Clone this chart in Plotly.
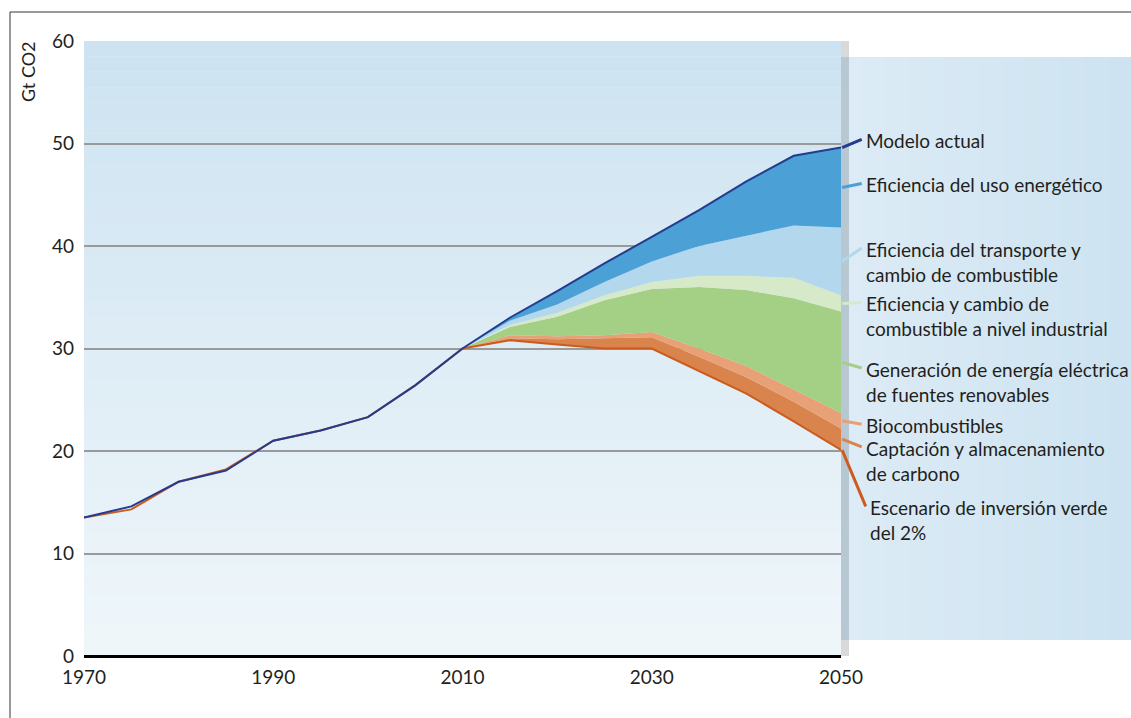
"""Emisiones de CO2: modelo actual vs escenario de inversión verde."""
import plotly.graph_objects as go

# --- datos ---
years = [1970, 1975, 1980, 1985, 1990, 1995, 2000, 2005, 2010,
         2015, 2020, 2025, 2030, 2035, 2040, 2045, 2050]
modelo_actual = [13.5, 14.6, 17.0, 18.1, 21.0, 22.0, 23.3, 26.4, 30.0,
                 33.0, 35.6, 38.3, 40.9, 43.5, 46.3, 48.8, 49.6]
escenario_verde = [13.5, 14.3, 17.0, 18.2, 21.0, 22.0, 23.3, 26.4, 30.0,
                   30.8, 30.4, 30.0, 30.0, 27.8, 25.6, 22.9, 20.1]

years_proj = [2010, 2015, 2020, 2025, 2030, 2035, 2040, 2045, 2050]
# límite superior de cada franja (de abajo hacia arriba)
tope_captacion = [30.0, 31.0, 30.9, 31.0, 31.1, 29.2, 27.2, 24.8, 22.2]
tope_biocomb = [30.0, 31.3, 31.2, 31.3, 31.6, 30.0, 28.3, 26.0, 23.7]
tope_renovables = [30.0, 32.1, 33.1, 34.7, 35.8, 36.0, 35.7, 34.9, 33.6]
tope_industria = [30.0, 32.3, 33.5, 35.2, 36.5, 37.1, 37.1, 36.9, 35.2]
tope_transporte = [30.0, 32.7, 34.3, 36.5, 38.5, 40.0, 41.0, 42.0, 41.8]

labels = ["Modelo actual", "Eficiencia del uso energético",
          "Eficiencia del transporte y<br>cambio de combustible",
          "Eficiencia y cambio de<br>combustible a nivel industrial",
          "Generación de energía eléctrica<br>de fuentes renovables",
          "Biocombustibles", "Captación y almacenamiento<br>de carbono",
          "Escenario de inversión verde<br>del 2%"]
colors = ['#243b8e', '#4ba0d5', '#b3d7ed', '#d6e9c9',
          '#a3d084', '#e8a176', '#d9834d', '#cc5b1c']

FONT = 'Lato'
TXT = '#231f20'

fig = go.Figure()

# franjas apiladas
proj_verde = escenario_verde[8:]
proj_modelo = modelo_actual[8:]
fig.add_trace(go.Scatter(x=years_proj, y=proj_verde, mode='lines',
                         line=dict(width=0), showlegend=False, hoverinfo='skip'))
bands = [(tope_captacion, colors[6]), (tope_biocomb, colors[5]),
         (tope_renovables, colors[4]), (tope_industria, colors[3]),
         (tope_transporte, colors[2]), (proj_modelo, colors[1])]
for top, c in bands:
    fig.add_trace(go.Scatter(x=years_proj, y=top, mode='lines', fill='tonexty',
                             fillcolor=c, line=dict(width=0, color=c),
                             showlegend=False, hoverinfo='skip'))

fig.add_trace(go.Scatter(x=years, y=escenario_verde, mode='lines',
                         line=dict(color=colors[7], width=2), showlegend=False))
fig.add_trace(go.Scatter(x=years, y=modelo_actual, mode='lines',
                         line=dict(color=colors[0], width=2), showlegend=False))

shapes = []


def lerp(c1, c2, t):
    a = [int(c1[i:i + 2], 16) for i in (1, 3, 5)]
    b = [int(c2[i:i + 2], 16) for i in (1, 3, 5)]
    return '#%02x%02x%02x' % tuple(round(a[k] + (b[k] - a[k]) * t) for k in range(3))


# fondo degradado del área del gráfico
n = 40
for i in range(n):
    shapes.append(dict(type='rect', xref='paper', yref='paper', x0=0, x1=1,
                       y0=i / n, y1=(i + 1) / n, layer='below', line=dict(width=0),
                       fillcolor=lerp('#eff6fa', '#cde3f1', i / (n - 1))))

# panel de la leyenda
px = lambda p: (p - 84) / 757
py = lambda p: (656 - p) / 615
m = 24
for i in range(m):
    x0 = px(849) + (px(1131) - px(849)) * i / m
    x1 = px(849) + (px(1131) - px(849)) * (i + 1) / m
    shapes.append(dict(type='rect', xref='paper', yref='paper', x0=x0, x1=x1 + 0.001,
                       y0=py(640), y1=py(57), layer='below', line=dict(width=0),
                       fillcolor=lerp('#dcebf5', '#cde3f1', i / (m - 1))))
# franja gris vertical
shapes.append(dict(type='rect', xref='paper', yref='paper', x0=px(841), x1=px(849),
                   y0=0, y1=1, layer='below', line=dict(width=0), fillcolor='#d9d9d9'))
shapes.append(dict(type='rect', xref='paper', yref='paper', x0=px(841), x1=px(849),
                   y0=py(640), y1=py(57), layer='below', line=dict(width=0),
                   fillcolor='#b8c8d2'))
# marco exterior
shapes.append(dict(type='rect', xref='paper', yref='paper', x0=px(10), x1=1.6,
                   y0=-0.5, y1=py(12), layer='below', line=dict(color='#333333', width=1),
                   fillcolor='rgba(0,0,0,0)'))

# líneas guía hacia las etiquetas (inician en el centro de cada franja en 2050)
tops = [proj_modelo[-1], tope_transporte[-1], tope_industria[-1], tope_renovables[-1],
        tope_biocomb[-1], tope_captacion[-1], proj_verde[-1]]
starts = [proj_modelo[-1]] + [(tops[i] + tops[i + 1]) / 2 for i in range(6)] + [proj_verde[-1]]
label_y = [50.4, 46.1, 39.8, 34.5, 28.1, 22.6, 20.4, 14.6]
label_x = [px(864)] * 7 + [px(868)]
for i in range(8):
    shapes.append(dict(type='line', xref='paper', yref='y', x0=1.0015, x1=label_x[i] - 0.003,
                       y0=starts[i], y1=label_y[i], layer='above',
                       line=dict(color=colors[i], width=3)))

annotations = []
for i in range(8):
    annotations.append(dict(xref='paper', yref='y', x=label_x[i], y=label_y[i],
                            xanchor='left', yanchor='top', yshift=12, align='left',
                            text=labels[i], showarrow=False,
                            font=dict(family=FONT, size=19, color=TXT)))
annotations.append(dict(xref='paper', yref='paper', x=px(28), y=py(71),
                        xanchor='center', yanchor='middle',
                        text='Gt CO2', textangle=-90, showarrow=False,
                        font=dict(family=FONT, size=18, color=TXT)))

fig.update_layout(
    width=1131, height=718, paper_bgcolor='white', plot_bgcolor='#e3eff7',
    margin=dict(l=84, r=290, t=41, b=62), showlegend=False,
    font=dict(family=FONT, color=TXT),
    xaxis=dict(range=[1970, 2050], tickvals=[1970, 1990, 2010, 2030, 2050],
               showgrid=False, zeroline=False, showline=False, ticks='',
               tickfont=dict(size=19, color=TXT), ticklabelstandoff=8),
    yaxis=dict(range=[0, 60], tickvals=[0, 10, 20, 30, 40, 50, 60],
               showgrid=True, gridcolor='#9a9a9a', gridwidth=1.5,
               zeroline=True, zerolinecolor='#000000', zerolinewidth=3,
               showline=False, ticks='', tickfont=dict(size=19, color=TXT),
               ticklabelstandoff=9),
    shapes=shapes, annotations=annotations,
)

# sin margen en <body> para que la figura ocupe exactamente la ventana
fig.write_html("out.html", config={'displayModeBar': False},
               post_script="document.body.style.margin='0';document.body.style.overflow='hidden';")
